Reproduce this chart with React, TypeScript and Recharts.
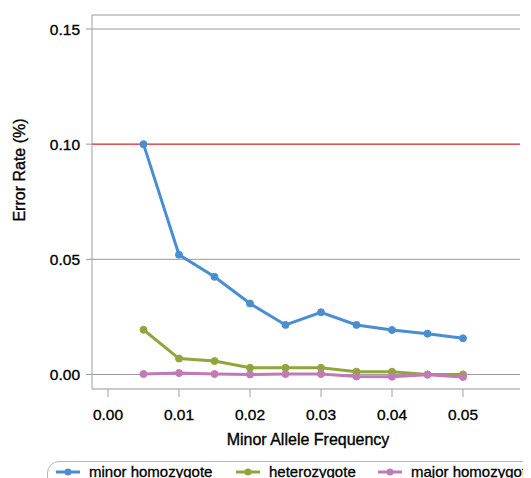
import React from 'react';
import { LineChart, Line, XAxis, YAxis, CartesianGrid, ReferenceLine } from 'recharts';

const frequencies = [0.005, 0.01, 0.015, 0.02, 0.025, 0.03, 0.035, 0.04, 0.045, 0.05];
const minorHomozygote = [0.1, 0.052, 0.0424, 0.0308, 0.0215, 0.027, 0.0215, 0.0193, 0.0177, 0.0157];
const heterozygote = [0.0194, 0.0069, 0.0058, 0.0029, 0.0029, 0.0029, 0.0012, 0.0012, 0.0, 0.0];
const majorHomozygote = [0.0002, 0.0006, 0.0002, 0.0, 0.0002, 0.0002, -0.0009, -0.001, -0.0001, -0.0011];
const xTicks = [0, 0.01, 0.02, 0.03, 0.04, 0.05];
const yTicks = [0, 0.05, 0.1, 0.15];

const seriesInfo = [
  { key: 'minor', name: 'minor homozygote', color: '#4a8dd2' },
  { key: 'het', name: 'heterozygote', color: '#8fa63c' },
  { key: 'major', name: 'major homozygote', color: '#c27ab6' },
];

const data = frequencies.map((f, i) => ({
  freq: f,
  minor: minorHomozygote[i],
  het: heterozygote[i],
  major: majorHomozygote[i],
}));

const FONT = '"Liberation Sans", Arial, Helvetica, sans-serif';
const TEXT_STROKE = 0.35;

function LegendBox() {
  return (
    <div
      style={{
        position: 'absolute',
        left: 39,
        top: 453,
        width: 520,
        height: 40,
        border: '1px solid #b5b5b5',
        borderRadius: 12,
        boxSizing: 'border-box',
        fontFamily: FONT,
        fontSize: 15,
        color: '#000',
        WebkitTextStroke: '0.3px #000',
      }}
    >
      {seriesInfo.map((s, i) => {
        const lefts = [8, 188, 330];
        return (
          <div key={s.key} style={{ position: 'absolute', left: lefts[i], top: 1, display: 'flex', alignItems: 'center', whiteSpace: 'nowrap' }}>
            <svg width={24} height={14} style={{ marginRight: 9 }}>
              <line x1={0} y1={7} x2={24} y2={7} stroke={s.color} strokeWidth={3} />
              <circle cx={12} cy={7} r={3.5} fill={s.color} />
            </svg>
            <span>{s.name}</span>
          </div>
        );
      })}
    </div>
  );
}

export default function App() {
  return (
    <div style={{ position: 'relative', width: 523, height: 470 }}>
      <LineChart
        width={523}
        height={470}
        data={data}
        margin={{ top: 7, right: 11, left: 0, bottom: 39 }}
        style={{ fontFamily: FONT }}
      >
        <CartesianGrid horizontal={true} vertical={false} stroke="#9a9a9a" strokeWidth={1} />
        <XAxis
          dataKey="freq"
          type="number"
          domain={[0, 0.05]}
          ticks={xTicks}
          tickFormatter={(v: number) => v.toFixed(2)}
          padding={{ left: 16, right: 57 }}
          height={50}
          tickSize={8}
          tickMargin={12}
          axisLine={{ stroke: '#c8c8c8' }}
          tickLine={{ stroke: '#a0a0a0' }}
          tick={{ fill: '#000', fontSize: 15.5, fontFamily: FONT, stroke: '#000', strokeWidth: TEXT_STROKE }}
          label={(props: any) => {
            const vb = props.viewBox;
            return (
              <text x={vb.x + vb.width / 2 + 2} y={437} textAnchor="middle" fontSize={16} fill="#000" stroke="#000" strokeWidth={TEXT_STROKE} fontFamily={FONT}>
                Minor Allele Frequency
              </text>
            );
          }}
        />
        <YAxis
          type="number"
          domain={[0, 0.15]}
          ticks={yTicks}
          tickFormatter={(v: number) => v.toFixed(2)}
          padding={{ top: 14, bottom: 12 }}
          width={84}
          tickSize={6}
          tickMargin={6}
          axisLine={{ stroke: '#a0a0a0' }}
          tickLine={{ stroke: '#9a9a9a' }}
          tick={{ fill: '#000', fontSize: 15.5, fontFamily: FONT, stroke: '#000', strokeWidth: TEXT_STROKE }}
          label={() => (
            <text
              x={11}
              y={162}
              transform="rotate(-90, 11, 162)"
              textAnchor="middle"
              dominantBaseline="central"
              fontSize={16}
              fill="#000"
              stroke="#000"
              strokeWidth={TEXT_STROKE}
              fontFamily={FONT}
            >
              Error Rate (%)
            </text>
          )}
        />
        <ReferenceLine y={0.1} stroke="#ee1c25" strokeWidth={1} />
        {seriesInfo.map((s) => (
          <Line
            key={s.key}
            dataKey={s.key}
            name={s.name}
            type="linear"
            stroke={s.color}
            strokeWidth={3}
            dot={{ r: 3.5, fill: s.color, stroke: s.color, strokeWidth: 1 }}
            activeDot={false}
            isAnimationActive={false}
          />
        ))}
      </LineChart>
      <LegendBox />
    </div>
  );
}
